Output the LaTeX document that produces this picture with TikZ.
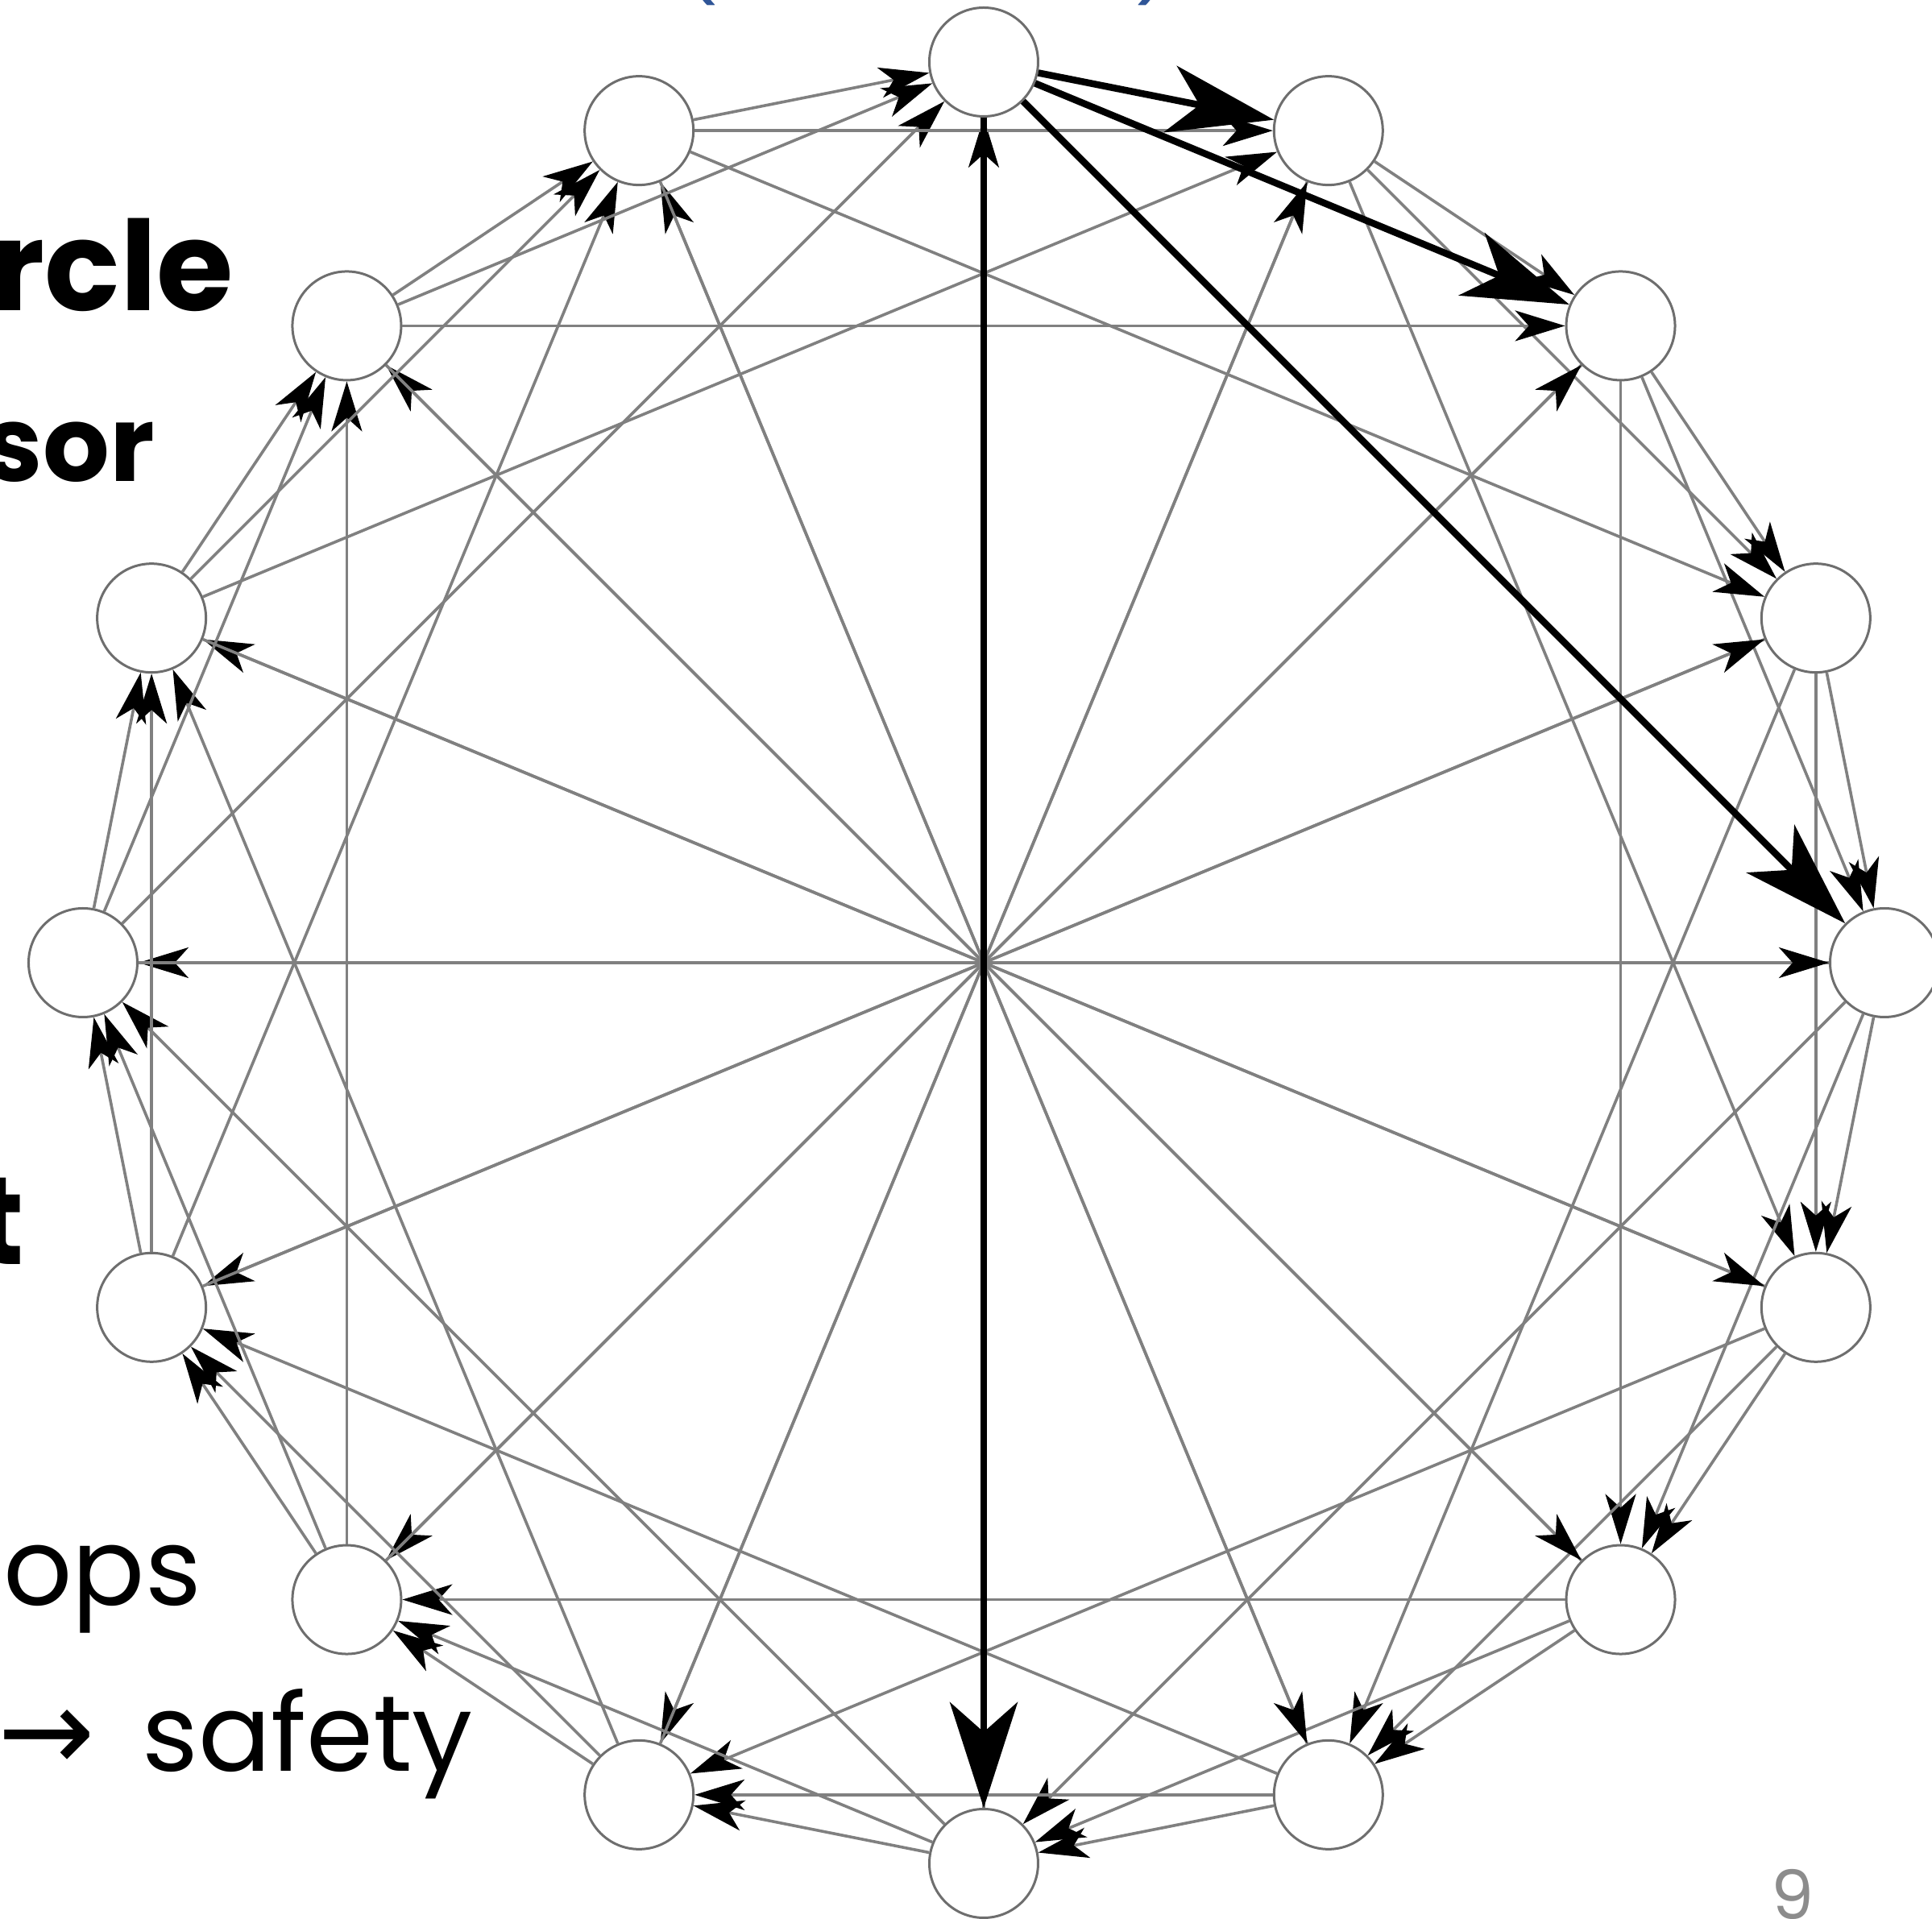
\documentclass[tikz,border=0pt]{standalone}
\usepackage{fontspec}
\setmainfont{Poppins}
\newfontfamily\arrowfont{DejaVu Sans}
\usetikzlibrary{arrows.meta}
\definecolor{edgegray}{RGB}{128,128,128}
\definecolor{nodegray}{RGB}{110,110,110}
\definecolor{slidegray}{RGB}{140,140,140}
\definecolor{titleblue}{RGB}{47,85,151}
\begin{document}
\begin{tikzpicture}[x=1cm,y=1cm,
  ringnode/.style={circle, draw=nodegray, line width=0.03cm, fill=white, minimum size=1.35cm, inner sep=0pt},
  finger/.style={draw=edgegray, line width=0.036cm, -{Stealth[length=0.62cm,width=0.38cm,inset=0.17cm,color=black]}},
  hot/.style={draw=black, line width=0.085cm, -{Stealth[length=1.31cm,width=0.84cm,inset=0.37cm]}},
  lbl/.style={inner sep=0pt, outer sep=0pt}
]
\useasboundingbox (-12.21,-11.87) rectangle (11.77,11.95);
% ring nodes
\foreach \i in {0,...,15} \node[ringnode] (n\i) at ({90-22.5*\i}:11.18) {};
% finger edges
\foreach \i in {0,...,15} {
  \foreach \k in {1,2,4,8} {
    \pgfmathtruncatemacro\j{mod(\i+\k,16)}
    \ifnum\i=0 \else \draw[finger] (n\i) -- (n\j); \fi
  }
}
% highlighted fingers of node 0
\foreach \j in {1,2,4,8} \draw[hot] (n0) -- (n\j);
% cut-off texts
\node[lbl, anchor=base east, font=\fontsize{44}{48}\selectfont\bfseries] (tA) at (-9.31,8.09) {rcle};
\node[lbl, anchor=base east, font=\fontsize{37}{40}\selectfont\bfseries] (tB) at (-10.29,5.97) {sor};
\node[lbl, anchor=base east, font=\fontsize{44}{48}\selectfont\bfseries] (tC) at (-11.91,-3.75) {t};
\node[lbl, anchor=base east, font=\fontsize{38}{42}\selectfont] (tD) at (-9.71,-7.98) {ops};
\node[lbl, anchor=base east, font=\fontsize{38}{42}\selectfont] (tE) at (-6.34,-10.04) {safety};
\node[lbl, anchor=base west, font=\fontsize{41}{44}\selectfont\arrowfont] (tR) at (-12.23,-10.04) {→};
\node[lbl, anchor=north west, font=\fontsize{24}{26}\selectfont, text=slidegray] (pg) at (9.77,-11.25) {9};
\node[lbl, anchor=south, font=\fontsize{28}{30}\selectfont, text=titleblue] (pl) at (-3.51,11.88) {(};
\node[lbl, anchor=south, font=\fontsize{28}{30}\selectfont, text=titleblue] (pr) at (2.10,11.88) {)};
\end{tikzpicture}
\end{document}
